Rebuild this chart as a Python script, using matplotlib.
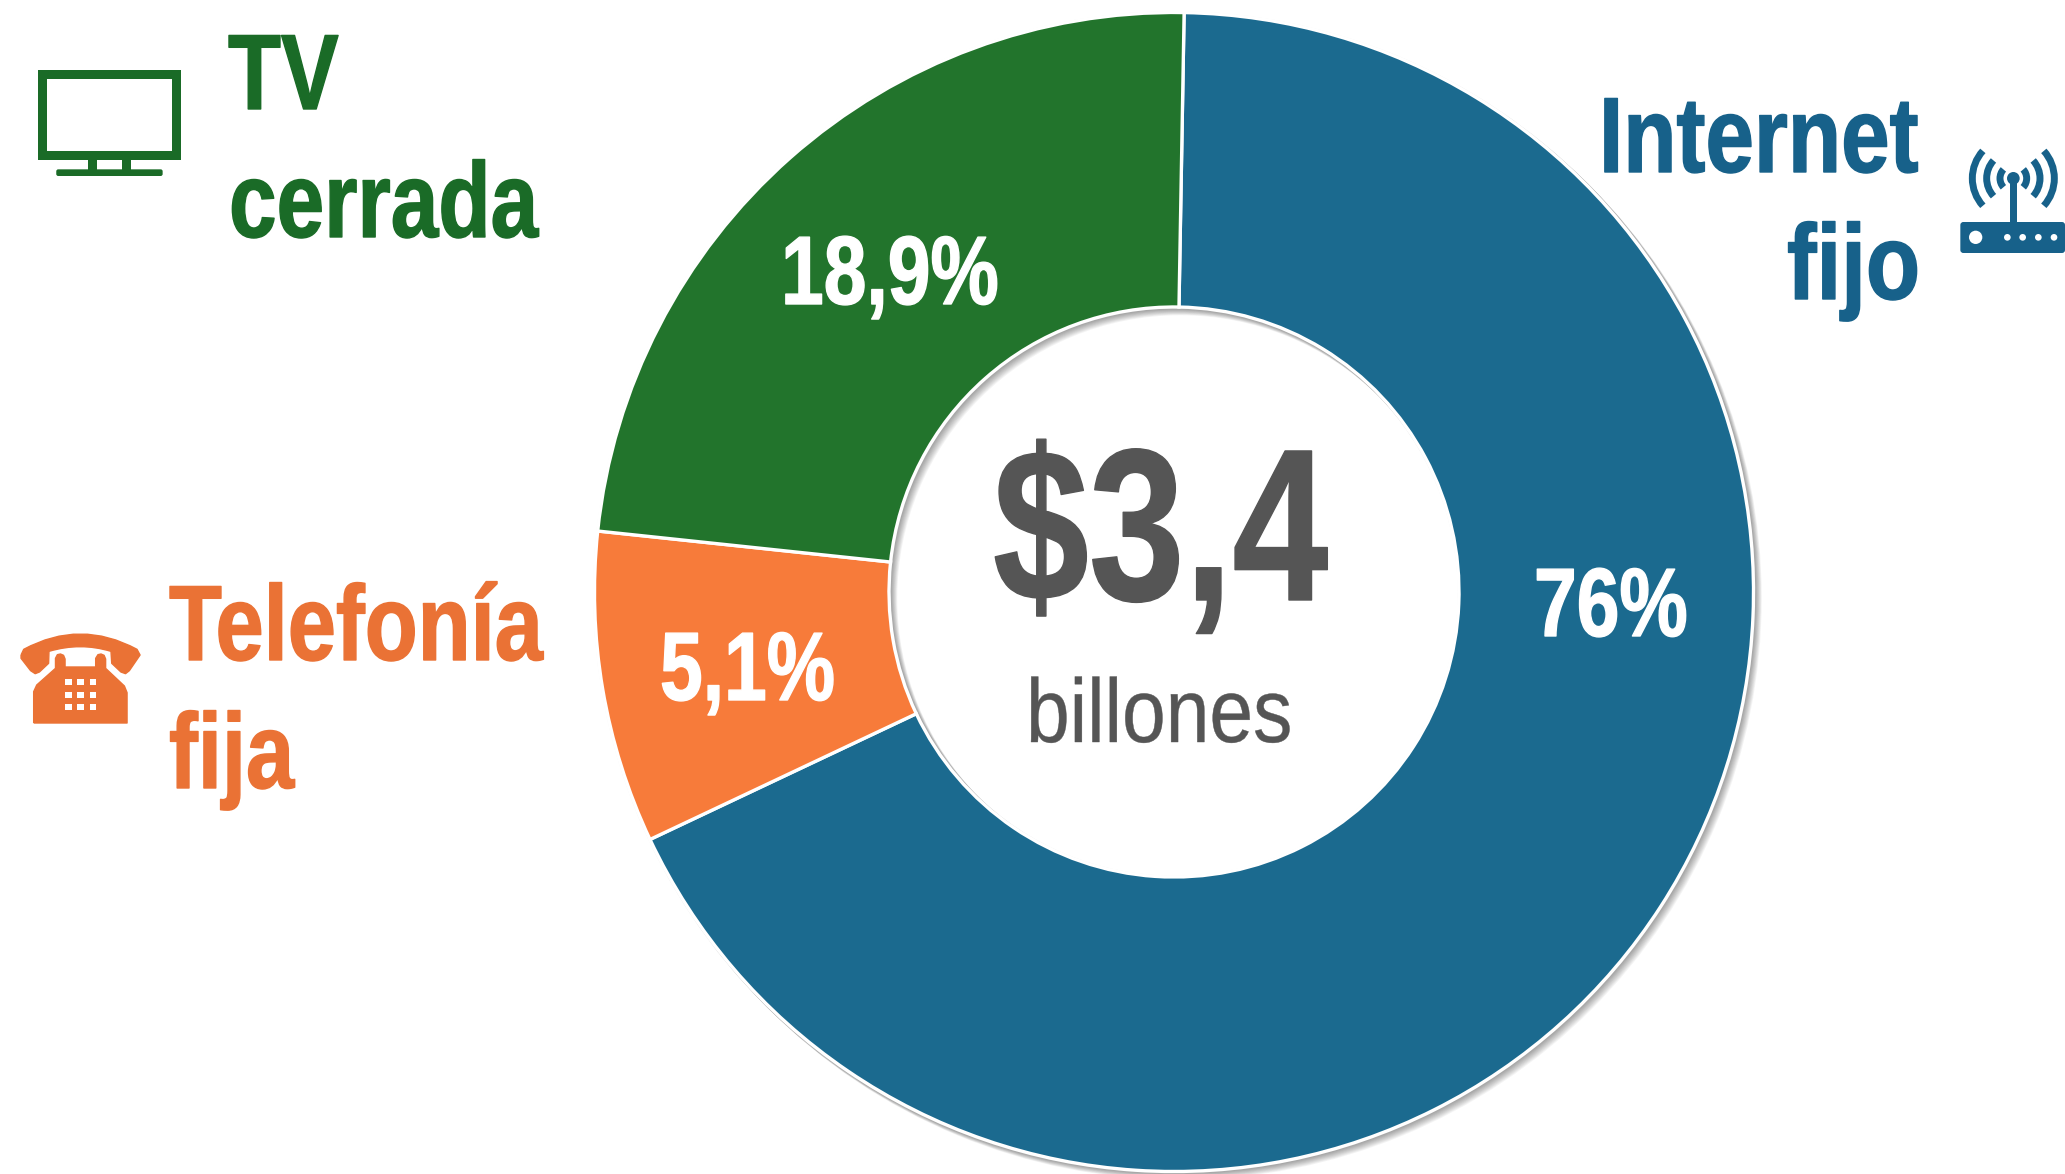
import matplotlib
matplotlib.use('Agg')
import matplotlib.pyplot as plt
import matplotlib.patheffects as pe
from matplotlib.patches import Rectangle, FancyBboxPatch, Circle, Wedge, Arc, PathPatch
from matplotlib.path import Path
from matplotlib.transforms import Affine2D

# share of each slice as drawn in the picture, and the labels printed on it
categories = ['Internet fijo', 'Telefonía fija', 'TV cerrada']
drawn_shares = [67.7, 8.7, 23.6]
value_labels = ['76%', '5,1%', '18,9%']
total_label = '$3,4'
total_unit = 'billones'

slice_colors = ['#1B6A8F', '#F77B3A', '#22742C']
BLUE = '#17618A'
GREEN = '#1A6B27'
ORANGE = '#EA7235'
GRAY = '#555555'

W, H = 2065, 1174
CX, CY, R, R_IN = 1174, 592, 579.5, 285
SX_ZOOM = 2.613  # crop scale of the icon sketches, x and y differ
SY_ZOOM = 3.0


class Squeeze(pe.AbstractPathEffect):
    # the reference font is a narrowed Arial, so narrow the glyphs and thicken them a bit
    def __init__(self, sx, stroke=0.0):
        super().__init__()
        self.sx = sx
        self.stroke = stroke

    def draw_path(self, renderer, gc, tpath, affine, rgbFace=None):
        m = affine.get_matrix().copy()
        m[0, 0] *= self.sx
        gc0 = renderer.new_gc()
        gc0.copy_properties(gc)
        gc0.set_linewidth(self.stroke)
        gc0.set_foreground(rgbFace)
        renderer.draw_path(gc0, tpath, Affine2D(m), rgbFace)
        gc0.restore()


fig = plt.figure(figsize=(W / 100, H / 100), dpi=100)
ax = fig.add_axes([0, 0, 1, 1])

# soft shadow under the ring
for d in range(1, 10):
    ax.add_patch(Wedge((CX + d * 0.7, H - CY - d * 0.7), R + 2, 0, 360, width=R - R_IN + 4,
                       fc='black', ec='none', alpha=0.045, zorder=1))

ax.pie(drawn_shares, colors=slice_colors, startangle=89, counterclock=False,
       center=(CX, H - CY), radius=R,
       wedgeprops=dict(width=R - R_IN, edgecolor='white', linewidth=2.4, zorder=2))
ax.set_aspect('equal')
ax.set_xlim(0, W)
ax.set_ylim(0, H)
ax.axis('off')


def label(x, y, s, size, color, sx, weight='bold', stroke=1.0):
    ax.text(x, H - y, s, fontsize=size, color=color, fontweight=weight, family='Liberation Sans',
            ha='left', va='baseline', zorder=5, path_effects=[Squeeze(sx, stroke)])


label(228, 109, 'TV', 77, GREEN, 0.81)
label(229, 237, 'cerrada', 77, GREEN, 0.80)
label(169, 660, 'Telefonía', 77, ORANGE, 0.81)
label(169, 788, 'fija', 77, ORANGE, 0.81)
label(1599, 172, 'Internet', 77, BLUE, 0.815)
label(1787, 299, 'fijo', 77, BLUE, 0.83)

label(1534, 636, value_labels[0], 70, 'white', 0.79)
label(660, 700, value_labels[1], 70, 'white', 0.79)
label(781, 304, value_labels[2], 70, 'white', 0.79)
label(993, 600, total_label, 156, GRAY, 0.795)
label(1026, 742, total_unit, 65, GRAY, 0.87, weight='normal', stroke=0.3)


def box(x0, y0, x1, y1, color):
    # corners are in crop px of the left icons
    ax.add_patch(Rectangle((x0 / SX_ZOOM, H - y1 / SY_ZOOM), (x1 - x0) / SX_ZOOM, (y1 - y0) / SY_ZOOM,
                           fc=color, ec='none', zorder=5))


# TV icon
box(99, 210, 473, 481, GREEN)
box(123, 238, 449, 453, 'white')
box(229, 481, 253, 510, GREEN)
box(319, 481, 343, 510, GREEN)
ax.add_patch(FancyBboxPatch((147 / SX_ZOOM, H - 528 / SY_ZOOM), 278 / SX_ZOOM, 20 / SY_ZOOM,
                            boxstyle='round,pad=0,rounding_size=2', fc=GREEN, ec='none', zorder=5))

# phone icon
OY = 560


def shape(points, codes, color):
    verts = [(x / SX_ZOOM, H - OY - y / SY_ZOOM) for x, y in points]
    ax.add_patch(PathPatch(Path(verts, codes), fc=color, ec=color, lw=1, joinstyle='round', zorder=5))


handset = [(55, 285), (62, 268), (210, 176), (358, 268), (366, 285), (338, 332), (328, 341), (316, 336),
           (292, 310), (290, 274), (210, 246), (128, 274), (127, 310), (103, 336), (92, 341), (80, 332),
           (55, 295), (55, 285)]
handset_codes = [Path.MOVETO, Path.LINETO, Path.CURVE3, Path.CURVE3] + [Path.LINETO] * 6 + \
                [Path.CURVE3, Path.CURVE3] + [Path.LINETO] * 6
body = [(88, 489), (88, 395), (96, 375), (145, 325), (145, 295), (150, 284), (158, 282), (166, 286), (170, 297),
        (170, 321), (250, 321), (250, 295), (256, 284), (264, 282), (272, 286), (276, 297), (276, 325), (325, 378),
        (332, 398), (332, 489), (88, 489)]
shape(handset, handset_codes, ORANGE)
shape(body, [Path.MOVETO] + [Path.LINETO] * (len(body) - 1), ORANGE)
for kx in [169, 201, 234]:
    for ky in [358, 395, 432]:
        box(kx, ky + 3 * OY, kx + 18, ky + 18 + 3 * OY, 'white')

# router icon, this crop was a plain 3x
OX, OYR = 1560, 70
ax.add_patch(FancyBboxPatch((OX + 1201 / 3 + 3, H - OYR - 549 / 3 + 3), 314 / 3 - 6, 93 / 3 - 6,
                            boxstyle='round,pad=3', fc=BLUE, ec='none', zorder=5))
ax.add_patch(Circle((OX + 1247 / 3, H - OYR - 502 / 3), 20 / 3, fc='white', ec='none', zorder=6))
for dx in [1342, 1388, 1435, 1482]:
    ax.add_patch(Circle((OX + dx / 3, H - OYR - 502 / 3), 10 / 3, fc='white', ec='none', zorder=6))
ax.add_patch(Rectangle((OX + 1350 / 3, H - OYR - 456 / 3), 20 / 3, 126 / 3, fc=BLUE, ec='none', zorder=5))
ant = (OX + 1360 / 3, H - OYR - 325 / 3)
ax.add_patch(Circle(ant, 19 / 3, fc=BLUE, ec='none', zorder=6))
for r, half in [(40, 42), (80, 42), (123, 42)]:
    d = 2 * r / 3
    ax.add_patch(Arc(ant, d, d, theta1=-half, theta2=half, ec=BLUE, lw=5, zorder=5))
    ax.add_patch(Arc(ant, d, d, theta1=180 - half, theta2=180 + half, ec=BLUE, lw=5, zorder=5))

fig.savefig('out.png', dpi=100, facecolor='white')
